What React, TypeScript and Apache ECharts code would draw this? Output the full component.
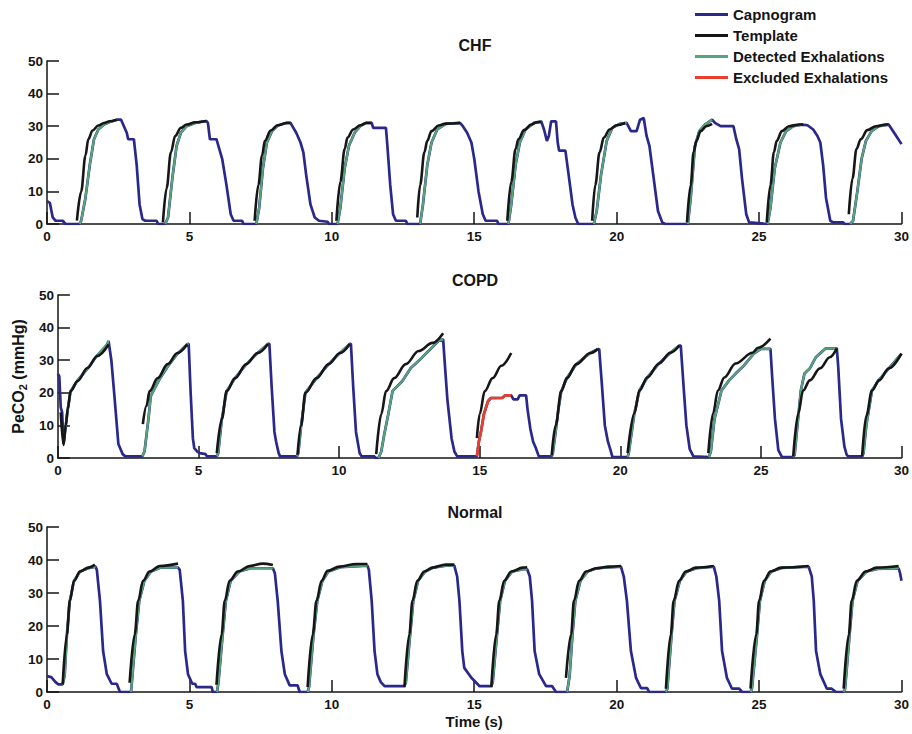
import React, { useEffect, useRef } from "react";
import * as echarts from "echarts";

type Pt = [number, number];

// ---------- CHF ----------
const chfCapnogram: Pt[] = [
  [0, 7], [0.1, 6.5], [0.2, 2], [0.3, 1], [0.55, 1], [0.65, 0], [1.15, 0],
  [1.2, 1], [1.35, 8], [1.5, 18], [1.65, 26], [1.8, 29], [2.0, 30.5], [2.2, 31.3], [2.45, 32], [2.6, 32], [2.7, 30], [2.8, 28], [2.85, 26], [3.05, 26], [3.15, 18], [3.25, 6], [3.35, 1.5], [3.45, 1], [3.85, 1], [3.9, 0], [4.15, 0],
  [4.25, 2], [4.4, 14], [4.55, 24], [4.7, 28], [4.9, 30], [5.2, 31], [5.6, 31.6], [5.65, 31], [5.72, 26], [5.95, 26], [6.05, 23], [6.15, 20], [6.3, 12], [6.45, 3], [6.55, 1], [6.85, 1], [6.9, 0], [7.35, 0],
  [7.45, 5], [7.58, 17], [7.72, 25], [7.9, 28.5], [8.1, 30.2], [8.4, 31], [8.55, 31], [8.65, 29.5], [8.75, 28], [8.9, 25], [9.0, 22], [9.1, 15], [9.25, 6], [9.4, 2], [9.55, 1], [9.85, 0.7], [9.9, 0], [10.2, 0],
  [10.3, 5], [10.45, 17], [10.6, 24], [10.8, 28], [11.0, 30], [11.2, 31], [11.4, 31], [11.45, 29.5], [11.9, 29.5], [11.95, 24], [12.05, 12], [12.15, 3], [12.25, 1], [12.6, 1], [12.65, 0], [13.1, 0],
  [13.2, 6], [13.35, 18], [13.5, 25], [13.7, 29], [14.0, 30.7], [14.5, 31], [14.6, 30], [14.75, 28], [14.9, 25], [15.0, 20], [15.15, 10], [15.3, 3], [15.4, 1], [15.8, 1], [15.85, 0], [16.2, 0],
  [16.3, 6], [16.45, 18], [16.6, 25], [16.8, 29], [17.1, 31], [17.35, 31.5], [17.45, 29], [17.55, 25.5], [17.62, 27], [17.7, 31.5], [17.87, 31.5], [17.93, 25], [17.98, 22.5], [18.2, 22.5], [18.3, 16], [18.45, 6], [18.55, 2], [18.65, 0], [19.2, 0],
  [19.3, 4], [19.45, 15], [19.65, 25.5], [19.85, 29.5], [20.1, 30.7], [20.35, 31], [20.5, 28.5], [20.7, 28.5], [20.82, 32], [20.95, 32.5], [21.05, 27], [21.15, 24], [21.3, 14], [21.45, 4], [21.6, 0.5], [21.7, 0], [22.5, 0],
  [22.6, 8], [22.75, 24], [22.9, 28.5], [23.1, 30.5], [23.35, 32], [23.45, 31], [23.65, 30], [24.1, 30], [24.2, 26], [24.3, 23], [24.4, 14], [24.55, 3], [24.65, 0.5], [25.3, 0],
  [25.4, 5], [25.55, 17], [25.75, 25], [25.95, 28.5], [26.2, 30], [26.5, 30.5], [26.7, 30.3], [26.9, 29], [27.05, 27], [27.15, 25], [27.25, 18], [27.35, 8], [27.5, 1], [27.6, 0.5], [27.95, 0.5], [28.0, 0], [28.2, 0],
  [28.3, 1], [28.45, 10], [28.6, 20], [28.75, 25.5], [28.95, 28.5], [29.2, 30], [29.55, 30.5], [29.7, 28.5], [29.85, 26.5], [30, 24.5],
];

const chfTemplates: Pt[][] = [
  [[1.05, 1], [1.2, 10], [1.35, 21], [1.45, 26], [1.6, 28.7], [1.8, 30.2], [2.0, 31], [2.2, 31.5], [2.45, 32]],
  [[4.07, 0.5], [4.2, 11], [4.35, 22], [4.5, 27], [4.7, 29.5], [4.9, 30.5], [5.2, 31.2], [5.6, 31.6]],
  [[7.29, 1], [7.42, 12], [7.55, 21], [7.65, 25.5], [7.85, 28.7], [8.1, 30.3], [8.4, 31], [8.55, 31]],
  [[10.16, 1], [10.3, 13], [10.45, 23], [10.55, 26.5], [10.75, 29], [11.0, 30.3], [11.2, 31], [11.4, 31]],
  [[13.0, 2], [13.1, 12], [13.25, 22], [13.35, 25.5], [13.5, 28.5], [13.75, 30.2], [14.0, 30.8], [14.5, 31]],
  [[16.16, 1], [16.3, 13], [16.45, 23], [16.55, 26], [16.75, 28.8], [17.0, 30.5], [17.2, 31.2], [17.35, 31.3]],
  [[19.14, 1], [19.25, 12], [19.4, 22], [19.55, 26.5], [19.75, 29], [20.0, 30.3], [20.3, 31]],
  [[22.47, 0.5], [22.6, 12], [22.7, 22], [22.8, 25.5], [22.95, 28.5], [23.15, 30], [23.35, 30.7]],
  [[25.27, 0.5], [25.4, 12], [25.52, 22], [25.62, 25.5], [25.8, 28.5], [26.05, 30], [26.4, 30.5], [26.55, 30.5]],
  [[28.15, 3], [28.28, 14], [28.42, 23], [28.57, 26], [28.8, 28.8], [29.1, 30], [29.44, 30.5], [29.55, 30.5]],
];

const chfDetected: Pt[] = [
  [1.15, 2.45], [4.15, 5.6], [7.35, 8.55], [10.2, 11.4], [13.1, 14.5],
  [16.2, 17.35], [19.2, 20.35], [22.5, 23.35], [25.3, 26.5], [28.2, 29.55],
];
const chfExcluded: Pt[] = [];

// ---------- COPD ----------
const copdCapnogram: Pt[] = [
  [0, 25.8], [0.05, 25], [0.1, 15.5], [0.15, 14], [0.2, 4.3], [0.28, 10], [0.35, 15], [0.45, 20.5], [0.7, 23.8], [1.05, 27.4], [1.4, 31.5], [1.75, 34.8], [1.8, 35.9], [1.9, 30], [2.0, 20], [2.15, 4.3], [2.3, 1.2], [2.4, 0.5], [3.0, 0.5],
  [3.08, 2], [3.15, 7], [3.22, 12], [3.3, 19], [3.45, 21.5], [3.6, 24], [3.9, 28], [4.25, 32], [4.6, 34.9], [4.65, 35], [4.72, 20], [4.8, 6], [4.85, 3], [4.95, 2], [5.05, 1.5], [5.25, 1.2], [5.3, 0.5], [5.65, 0.5],
  [5.7, 1.5], [5.83, 12], [6.0, 20.5], [6.3, 24.5], [6.7, 28.8], [7.1, 32.2], [7.47, 35], [7.52, 35], [7.6, 22], [7.7, 8], [7.76, 5], [7.85, 1.5], [7.9, 0.5], [8.5, 0.5],
  [8.55, 1.5], [8.65, 10], [8.8, 20], [9.2, 24.5], [9.63, 28.8], [10.03, 32.2], [10.38, 35], [10.42, 35], [10.5, 22], [10.6, 8], [10.73, 1.5], [10.8, 0.5], [11.25, 0.5], [11.3, 0], [11.4, 0],
  [11.5, 2], [11.6, 7], [11.75, 13.5], [11.9, 20.5], [12.25, 23.6], [12.55, 27.6], [12.9, 30.4], [13.18, 32.8], [13.53, 35.9], [13.7, 36.4], [13.75, 30], [13.85, 18], [14.0, 6], [14.1, 2], [14.2, 0.5], [14.9, 0.5],
  [14.97, 5], [15.05, 8.3], [15.15, 13.5], [15.3, 17.5], [15.4, 18.4], [15.8, 18.4], [15.9, 19.2], [16.12, 19.2], [16.2, 18], [16.35, 18], [16.42, 19.2], [16.65, 19.2], [16.7, 15], [16.8, 9], [16.9, 5], [17.0, 3], [17.1, 0.5], [17.56, 0.5],
  [17.6, 1.5], [17.7, 8], [17.8, 15], [17.9, 20.5], [18.1, 24.5], [18.44, 28.8], [18.93, 32.2], [19.2, 33.4], [19.25, 33.4], [19.35, 22], [19.45, 10], [19.56, 5], [19.65, 2.5], [19.72, 0.3], [20.26, 0.3],
  [20.3, 1.5], [20.5, 13.7], [20.68, 20.7], [20.96, 24.7], [21.38, 29], [21.78, 32.3], [22.1, 34.5], [22.15, 34.5], [22.25, 22], [22.35, 10], [22.47, 2.7], [22.6, 0.5], [23.15, 0.3],
  [23.22, 2], [23.35, 12], [23.6, 20.7], [23.87, 23.8], [24.1, 25.9], [24.4, 28.4], [24.75, 32], [25.0, 33.5], [25.34, 33.5], [25.4, 25], [25.5, 12], [25.62, 2.4], [25.75, 0.3], [26.15, 0.3],
  [26.2, 1], [26.3, 10], [26.42, 20.7], [26.55, 25.9], [26.74, 27.5], [26.95, 30.9], [27.3, 33.6], [27.7, 33.6], [27.75, 28], [27.85, 12], [27.97, 3.5], [28.05, 1], [28.1, 0.5], [28.6, 0.5],
  [28.65, 1.5], [28.75, 10], [28.95, 20.7], [29.2, 24], [29.55, 27.5], [30, 32],
];

const copdTemplates: Pt[][] = [
  [[0.1, 14], [0.2, 4], [0.28, 10], [0.35, 15], [0.45, 20.5], [0.7, 23.6], [1.05, 27.6], [1.4, 31.3], [1.8, 34.8]],
  [[3.02, 10.4], [3.15, 16], [3.26, 20.5], [3.55, 24.5], [3.9, 28.8], [4.25, 32.2], [4.6, 34.9]],
  [[5.65, 1.5], [5.83, 12], [6.0, 20.5], [6.3, 24.5], [6.7, 28.8], [7.1, 32.2], [7.47, 35]],
  [[8.52, 1], [8.65, 10], [8.8, 20], [9.2, 24.5], [9.63, 28.8], [10.03, 32.2], [10.38, 35]],
  [[11.32, 1.2], [11.5, 13.5], [11.67, 20.5], [11.96, 24.5], [12.37, 28.8], [12.83, 32.8], [13.32, 35.3], [13.7, 38.3]],
  [[14.9, 6.1], [15.0, 13.5], [15.18, 20.5], [15.46, 24.5], [15.77, 28.3], [16.12, 32.2]],
  [[17.56, 0.8], [17.7, 10], [17.9, 20.5], [18.1, 24.5], [18.44, 28.8], [18.93, 32.2], [19.2, 33.4]],
  [[20.26, 1.5], [20.5, 13.7], [20.68, 20.7], [20.96, 24.7], [21.38, 29], [21.78, 32.3], [22.1, 34.5]],
  [[23.13, 1.5], [23.3, 13.7], [23.47, 20.7], [23.7, 24.7], [24.1, 29], [24.7, 32.3], [24.9, 33.8], [25.34, 36.6]],
  [[26.15, 0.5], [26.33, 13.7], [26.5, 20.7], [26.74, 23.8], [27.1, 27.5], [27.45, 30.9], [27.7, 33.6]],
  [[28.6, 0.5], [28.75, 13], [28.95, 20.7], [29.2, 23.8], [29.55, 27.5], [30, 32]],
];

const copdDetected: Pt[] = [
  [0.2, 1.8], [3.0, 4.65], [5.65, 7.47], [8.5, 10.38], [11.4, 13.7],
  [17.56, 19.2], [20.26, 22.1], [23.15, 25.34], [26.15, 27.7], [28.6, 30],
];
const copdExcluded: Pt[] = [[14.9, 16.12]];

// ---------- Normal ----------
const normalCapnogram: Pt[] = [
  [0, 4.8], [0.15, 4.5], [0.3, 3], [0.4, 2.3], [0.55, 2.3],
  [0.62, 5], [0.7, 17.5], [0.8, 27.6], [0.95, 33.7], [1.16, 36.5], [1.45, 37.5], [1.7, 38], [1.75, 37], [1.86, 27.6], [1.97, 12.4], [2.1, 5.4], [2.27, 2.5], [2.45, 2.5], [2.56, 0], [2.95, 0],
  [3.0, 5], [3.12, 17.5], [3.24, 27.6], [3.42, 33.7], [3.65, 36.5], [4.0, 37.7], [4.6, 37.7], [4.66, 37], [4.77, 27.6], [4.85, 12.4], [4.95, 5.4], [5.1, 2.5], [5.2, 2.5], [5.25, 1.5], [5.78, 1.5], [5.82, 0], [5.97, 0],
  [6.02, 3], [6.17, 17.5], [6.28, 27.6], [6.45, 33.7], [6.75, 36.5], [7.15, 37.5], [7.93, 37.5], [8.0, 36], [8.1, 27.6], [8.23, 12.4], [8.35, 5.4], [8.52, 2], [8.8, 2], [8.87, 0], [9.15, 0],
  [9.2, 1.5], [9.36, 17.5], [9.49, 27.6], [9.67, 33.7], [9.88, 36.5], [10.3, 37.8], [11.25, 38.3], [11.3, 37], [11.4, 27.6], [11.5, 12.4], [11.6, 5.4], [11.72, 3], [11.85, 1.8], [12.55, 1.8],
  [12.6, 3], [12.75, 17.5], [12.86, 27.6], [13.03, 33.7], [13.28, 36.5], [13.56, 37.7], [14.0, 38.3], [14.3, 38.3], [14.4, 35], [14.48, 27.6], [14.58, 12.4], [14.65, 7.3], [14.9, 4.3], [15.18, 1.8], [15.6, 1.8],
  [15.65, 3], [15.8, 17.5], [15.91, 27.6], [16.08, 33.7], [16.33, 36.5], [16.73, 37.2], [16.86, 37.2], [16.95, 35], [17.03, 27.6], [17.12, 12.4], [17.28, 5.4], [17.52, 1.8], [17.73, 1.8], [17.87, 0], [18.26, 0],
  [18.35, 5], [18.45, 17.5], [18.55, 27.6], [18.73, 33.7], [18.98, 36.5], [19.3, 37.5], [20.15, 38], [20.25, 35], [20.36, 27.6], [20.5, 12.4], [20.68, 4.3], [20.85, 1.2], [21.07, 1.2], [21.14, 0], [21.73, 0],
  [21.78, 1], [21.93, 17.5], [22.03, 27.6], [22.22, 33.7], [22.46, 36.5], [22.81, 37.5], [23.41, 38], [23.5, 35], [23.6, 27.6], [23.7, 12.4], [23.87, 4.3], [24.05, 1], [24.3, 1], [24.4, 0], [24.7, 0],
  [24.75, 1], [24.93, 17.5], [25.03, 27.6], [25.2, 33.7], [25.43, 36.5], [25.8, 37.6], [26.74, 38], [26.85, 35], [26.92, 27.6], [27.0, 12.4], [27.15, 5.4], [27.38, 1], [27.55, 1], [27.7, 0], [27.97, 0],
  [28.02, 1], [28.18, 17.5], [28.28, 27.6], [28.46, 33.7], [28.77, 36.5], [29.16, 37.3], [29.9, 37.5], [29.95, 36], [30, 33.7],
];

const normalTemplates: Pt[][] = [
  [[0.55, 2.3], [0.7, 17.5], [0.8, 27.6], [0.95, 33.7], [1.16, 36.5], [1.45, 37.7], [1.68, 38.6]],
  [[2.9, 2.8], [3.08, 17.5], [3.2, 27.6], [3.37, 33.7], [3.6, 36.5], [3.96, 38.2], [4.6, 38.9]],
  [[5.95, 2.2], [6.13, 17.5], [6.24, 27.6], [6.41, 33.7], [6.7, 36.5], [7.12, 38.2], [7.57, 38.9], [7.93, 38.5]],
  [[9.15, 1.5], [9.33, 17.5], [9.46, 27.6], [9.64, 33.7], [9.85, 36.7], [10.27, 38], [10.86, 38.8], [11.25, 38.8]],
  [[12.55, 1.5], [12.72, 17.5], [12.83, 27.6], [13.0, 33.7], [13.25, 36.5], [13.53, 37.7], [14.0, 38.6], [14.3, 38.6]],
  [[15.6, 1.5], [15.77, 17.5], [15.88, 27.6], [16.05, 33.7], [16.3, 36.5], [16.7, 37.7], [16.86, 37.8]],
  [[18.22, 4.3], [18.4, 17.5], [18.5, 27.6], [18.68, 33.7], [18.93, 36.5], [19.28, 37.5], [19.73, 38], [20.15, 38.2]],
  [[21.73, 1], [21.9, 17.5], [22.0, 27.6], [22.19, 33.7], [22.43, 36.5], [22.78, 37.7], [23.41, 38.2]],
  [[24.7, 1], [24.9, 17.5], [25.0, 27.6], [25.17, 33.7], [25.4, 36.5], [25.77, 37.7], [26.74, 38.2]],
  [[27.97, 1], [28.15, 17.5], [28.25, 27.6], [28.43, 33.7], [28.74, 36.5], [29.13, 37.7], [29.9, 38.2]],
];

const normalDetected: Pt[] = [
  [0.55, 1.7], [2.95, 4.6], [5.97, 7.93], [9.15, 11.25], [12.55, 14.3],
  [15.6, 16.86], [18.26, 20.15], [21.73, 23.41], [24.7, 26.74], [27.97, 29.9],
];
const normalExcluded: Pt[] = [];

// ---------- shared ----------
const panelTitles = ["CHF", "COPD", "Normal"];
const seriesNames = ["Capnogram", "Template", "Detected Exhalations", "Excluded Exhalations"];
const xRange = [0, 30, 5];
const yRange = [0, 50, 10];

const NAVY = "#2b288c";
const BLACK = "#161616";
const GREEN = "#58a47a";
const RED = "#e8402c";
const INK = "#151515";
const FONT = '"Liberation Sans", Arial, Helvetica, sans-serif';

const layout = [
  { top: 61, height: 163 },
  { top: 295, height: 163 },
  { top: 527, height: 165 },
];

// join separate segments into one line series, broken by empty points
function joinSegments(segs: Pt[][]): (number | null)[][] {
  const out: (number | null)[][] = [];
  segs.forEach((s, i) => {
    if (i > 0) out.push([s[0][0], null]);
    s.forEach((p) => out.push([p[0], p[1]]));
  });
  return out;
}

// pick the parts of a trace that fall inside the given time windows
function windowed(curve: Pt[], windows: Pt[]): (number | null)[][] {
  return joinSegments(
    windows.map(([a, b]) => curve.filter((p) => p[0] >= a - 1e-9 && p[0] <= b + 1e-9))
  );
}

const panels = [
  { capnogram: chfCapnogram, templates: chfTemplates, detected: chfDetected, excluded: chfExcluded },
  { capnogram: copdCapnogram, templates: copdTemplates, detected: copdDetected, excluded: copdExcluded },
  { capnogram: normalCapnogram, templates: normalTemplates, detected: normalDetected, excluded: normalExcluded },
];

export default function App() {
  const ref = useRef<HTMLDivElement>(null);

  useEffect(() => {
    if (!ref.current) return;
    const chart = echarts.init(ref.current, null, { renderer: "svg" });

    const labelStyle = { fontFamily: FONT, fontWeight: "bold" as const, fontSize: 13.5, color: INK };
    const axisLine = { show: true, lineStyle: { color: INK, width: 1.5 } };
    const axisTick = { show: true, inside: true, length: 12, lineStyle: { color: INK, width: 1.5 } };

    const series: any[] = [];
    panels.forEach((p, i) => {
      series.push({
        type: "line", name: seriesNames[0], xAxisIndex: i, yAxisIndex: i,
        data: p.capnogram, symbol: "none", showSymbol: false,
        lineStyle: { color: NAVY, width: 2.7 }, itemStyle: { color: NAVY }, z: 2,
      });
      series.push({
        type: "line", name: seriesNames[2], xAxisIndex: i, yAxisIndex: i,
        data: windowed(p.capnogram, p.detected), symbol: "none", showSymbol: false,
        lineStyle: { color: GREEN, width: 2.2 }, itemStyle: { color: GREEN }, z: 3,
      });
      if (p.excluded.length) {
        series.push({
          type: "line", name: seriesNames[3], xAxisIndex: i, yAxisIndex: i,
          data: windowed(p.capnogram, p.excluded), symbol: "none", showSymbol: false,
          lineStyle: { color: RED, width: 2.7 }, itemStyle: { color: RED }, z: 3,
        });
      }
      series.push({
        type: "line", name: seriesNames[1], xAxisIndex: i, yAxisIndex: i,
        data: joinSegments(p.templates), symbol: "none", showSymbol: false,
        smooth: 0.35, smoothMonotone: "x",
        lineStyle: { color: BLACK, width: 2.6 }, itemStyle: { color: BLACK }, z: 4,
      });
    });

    chart.setOption({
      animation: false,
      backgroundColor: "#ffffff",
      title: panelTitles.map((t, i) => ({
        text: t,
        left: 475,
        top: layout[i].top - 24 + (i === 0 ? 0 : 1),
        textAlign: "center",
        padding: 0,
        textStyle: { fontFamily: FONT, fontWeight: "bold", fontSize: 16, color: INK },
      })),
      legend: {
        orient: "vertical",
        left: 695,
        top: 7,
        padding: 0,
        itemWidth: 33,
        itemHeight: 3,
        itemGap: 6,
        icon: "rect",
        data: seriesNames,
        selectedMode: false,
        textStyle: { fontFamily: FONT, fontWeight: "bold", fontSize: 15, lineHeight: 15, color: INK },
      },
      grid: layout.map((g) => ({ left: 47, right: 9, top: g.top, height: g.height })),
      xAxis: layout.map((_, i) => ({
        type: "value", gridIndex: i, min: xRange[0], max: xRange[1], interval: xRange[2],
        axisLine, axisTick, splitLine: { show: false },
        axisLabel: { ...labelStyle, margin: 5 },
        name: i === 2 ? "Time (s)" : "",
        nameLocation: "middle",
        nameGap: 22,
        nameTextStyle: { fontFamily: FONT, fontWeight: "bold", fontSize: 15, color: INK },
      })),
      yAxis: layout.map((_, i) => ({
        type: "value", gridIndex: i, min: yRange[0], max: yRange[1], interval: yRange[2],
        axisLine, axisTick, splitLine: { show: false },
        axisLabel: { ...labelStyle, margin: 4 },
        name: i === 1 ? "PeCO{s|2} (mmHg)" : "",
        nameLocation: "middle",
        nameRotate: 90,
        nameGap: 20,
        nameTextStyle: {
          fontFamily: FONT, fontWeight: "bold", fontSize: 16, color: INK, lineHeight: 20,
          rich: {
            s: { fontFamily: FONT, fontWeight: "bold", fontSize: 11, color: INK, lineHeight: 11, verticalAlign: "bottom" },
          },
        },
      })),
      series,
    });

    return () => chart.dispose();
  }, []);

  return (
    <div
      ref={ref}
      style={{ position: "absolute", left: 0, top: 0, width: 912, height: 734, background: "#fff" }}
    />
  );
}
